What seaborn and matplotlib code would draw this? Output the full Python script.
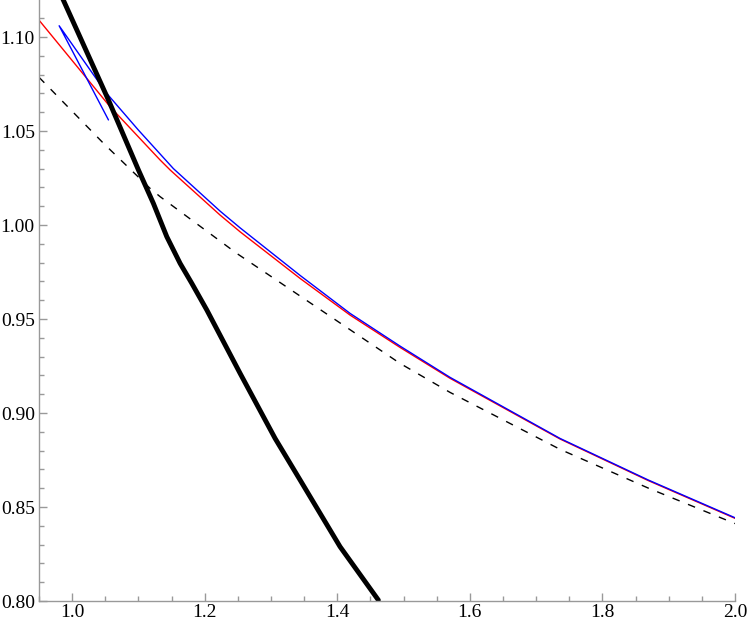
import numpy as np
import pandas as pd
import seaborn as sns
import matplotlib.pyplot as plt
from matplotlib.ticker import MultipleLocator, FormatStrFormatter

# values
red_x   = [0.95, 1.0573, 1.1327, 1.1478, 1.2232, 1.2534, 1.3439, 1.4193, 1.4947, 1.570, 1.736, 1.869, 2.0]
red_y   = [1.109, 1.0629, 1.0346, 1.0293, 1.0053, 0.9964, 0.9716, 0.9521, 0.9349, 0.9185, 0.8862, 0.8641, 0.8440]

blue_x  = [1.0548, 0.9804, 1.0510, 1.1, 1.1528, 1.2232, 1.2534, 1.3439, 1.4193, 1.4947, 1.570, 1.736, 1.869, 2.0]
blue_y  = [1.0559, 1.106, 1.0705, 1.0505, 1.0300, 1.0074, 0.9985, 0.9732, 0.9530, 0.9356, 0.9190, 0.8865, 0.8644, 0.8443]

dash_x  = [0.95, 1.0472, 1.1176, 1.1327, 1.2484, 1.3062, 1.4947, 1.570, 1.736, 1.869, 2.0]
dash_y  = [1.0786, 1.0435, 1.0195, 1.0151, 0.9849, 0.9712, 0.9264, 0.9110, 0.8807, 0.8601, 0.8412]

thick_x = [0.985, 1.0548, 1.1000, 1.1226, 1.1428, 1.1629, 1.1805, 1.2032, 1.2534, 1.3062, 1.3439, 1.4042, 1.462]
thick_y = [1.121, 1.0665, 1.0293, 1.0115, 0.9938, 0.9796, 0.9690, 0.9548, 0.9211, 0.8865, 0.8644, 0.8289, 0.8005]

sns.set_style("ticks")
plt.rcParams['font.family'] = ['Liberation Serif', 'DejaVu Serif']

fig = plt.figure(figsize=(7.47, 6.26), dpi=100)
ax  = fig.add_axes([0.0522, 0.0399, 0.9317, 0.9601])

sns.lineplot(data=pd.DataFrame({"x": red_x, "y": red_y}), x="x", y="y", sort=False,
             estimator=None, color="#ff0000", lw=1.0, ax=ax)
sns.lineplot(data=pd.DataFrame({"x": blue_x, "y": blue_y}), x="x", y="y", sort=False,
             estimator=None, color="#0000ff", lw=1.0, ax=ax)
sns.lineplot(data=pd.DataFrame({"x": dash_x, "y": dash_y}), x="x", y="y", sort=False,
             estimator=None, color="black", lw=1.0, ax=ax)
ax.lines[-1].set_dashes((5.5, 6.5))
sns.lineplot(data=pd.DataFrame({"x": thick_x, "y": thick_y}), x="x", y="y", sort=False,
             estimator=None, color="black", lw=3.5, ax=ax)

ax.set_xlim(0.95, 2.0)
ax.set_ylim(0.80, 1.1197)
ax.set_xlabel("")
ax.set_ylabel("")

ax.xaxis.set_major_locator(MultipleLocator(0.2))
ax.xaxis.set_minor_locator(MultipleLocator(0.05))
ax.yaxis.set_major_locator(MultipleLocator(0.05))
ax.yaxis.set_minor_locator(MultipleLocator(0.01))
ax.xaxis.set_major_formatter(FormatStrFormatter("%.1f"))
ax.yaxis.set_major_formatter(FormatStrFormatter("%.2f"))

for s in ["top", "right"]:
    ax.spines[s].set_visible(False)
for s in ["left", "bottom"]:
    ax.spines[s].set_color("#999999")
    ax.spines[s].set_linewidth(1.0)

ax.tick_params(which="both", direction="in", color="#999999", width=1.0, labelsize=14, labelcolor="black")
ax.tick_params(which="major", length=6)
ax.tick_params(which="minor", length=3.5)
ax.tick_params(axis="x", pad=2.5)
ax.tick_params(axis="y", pad=3)

plt.savefig("out.png", dpi=100)
